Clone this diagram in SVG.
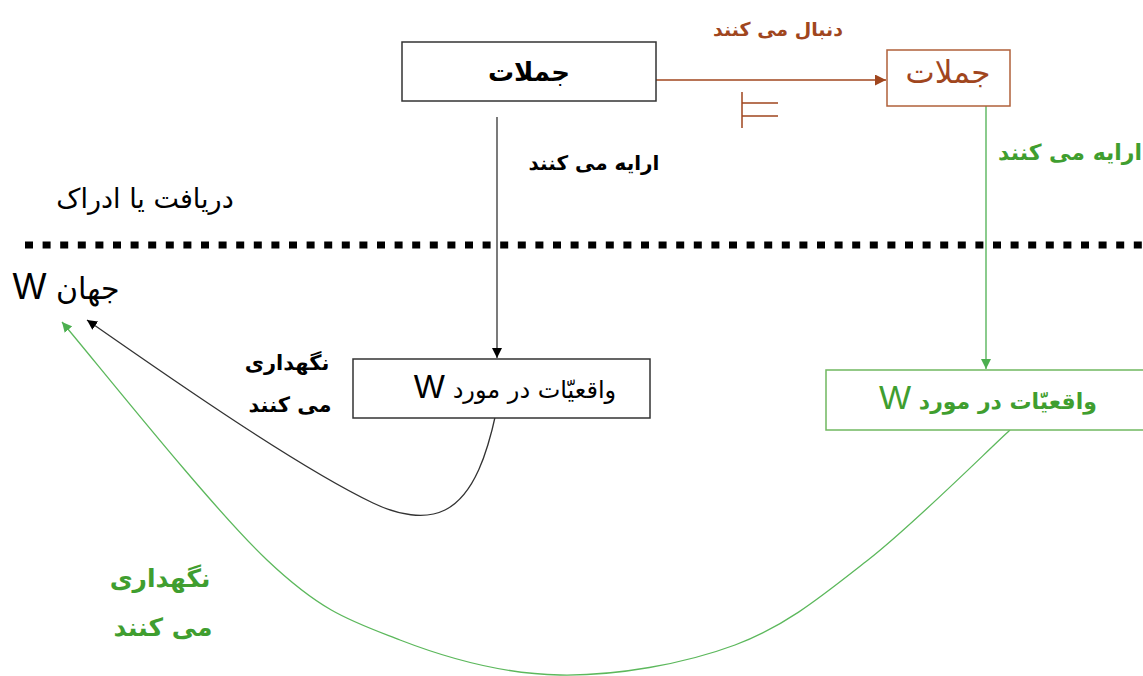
<svg xmlns="http://www.w3.org/2000/svg" width="1143" height="676" viewBox="0 0 1143 676">
<style>
text{font-family:"DejaVu Sans","Noto Sans",sans-serif;direction:rtl;text-anchor:middle}
.w{font-family:"Liberation Sans",Arial,sans-serif;font-weight:normal}
.blk{fill:#000}
.brn{fill:#a0461e}
.grn{fill:#3f9e2f}
.lbl{font-weight:bold}
</style>
<defs>
<marker id="ab" viewBox="0 0 10 10" refX="10" refY="5" markerWidth="10" markerHeight="10" markerUnits="userSpaceOnUse" orient="auto"><path d="M0,0L10,5L0,10z" fill="#000"/></marker>
<marker id="ar" viewBox="0 0 10 10" refX="10" refY="5" markerWidth="11" markerHeight="11" markerUnits="userSpaceOnUse" orient="auto"><path d="M0,0L10,5L0,10z" fill="#a0461e"/></marker>
<marker id="ag" viewBox="0 0 10 10" refX="10" refY="5" markerWidth="10" markerHeight="10" markerUnits="userSpaceOnUse" orient="auto"><path d="M0,0L10,5L0,10z" fill="#4caf50"/></marker>
</defs>
<rect width="1143" height="676" fill="#fff"/>
<line x1="25" y1="245" x2="1143" y2="245" stroke="#000" stroke-width="7" stroke-dasharray="8 9.6"/>
<g id="connectors" fill="none">
<path d="M656,80H886" stroke="#a0461e" stroke-width="1.5" marker-end="url(#ar)"/>
<path d="M742,92V128M742,103H778M742,116H778" stroke="#a0461e" stroke-width="1.5"/>
<path d="M497,117V358" stroke="#333" stroke-width="1.3" marker-end="url(#ab)"/>
<path d="M986,102V369" stroke="#4caf50" stroke-width="1.3" marker-end="url(#ag)"/>
<path d="M496,413C488,450 475,495 445,510C425,520 398,515 373,503C300,468 180,385 87,320" stroke="#333" stroke-width="1.3" marker-end="url(#ab)"/>
<path d="M1010,430C986,452 914,524 868,560C822,596 786,626 735,645C684,664 616,676 560,675C504,674 449,659 400,640C351,621 323,613 267,560C211,507 96,362 62,322" stroke="#5cb85c" stroke-width="1.3" marker-end="url(#ag)"/>
</g>
<g id="n1"><rect x="402" y="42" width="254" height="59" fill="#fff" stroke="#333" stroke-width="1.5"/><text x="529" y="81" class="blk" font-size="26" font-weight="bold">جملات</text></g>
<g id="n2"><rect x="887" y="50" width="123" height="56" fill="#fff" stroke="#b0603a" stroke-width="1.5"/><text x="948" y="83" class="brn" font-size="31">جملات</text></g>
<g id="n3"><rect x="353" y="359" width="297" height="59" fill="#fff" stroke="#333" stroke-width="1.5"/><text x="515" y="398" class="blk" font-size="24">واقعیّات در مورد <tspan class="w" font-size="33">W</tspan></text></g>
<g id="n4"><rect x="826" y="370" width="320" height="60" fill="#fff" stroke="#70b860" stroke-width="1.5"/><text x="988" y="409" class="grn" font-size="22" font-weight="bold">واقعیّات در مورد <tspan class="w" font-size="34">W</tspan></text></g>
<g id="labels">
<text x="778" y="36" class="brn lbl" font-size="19">دنبال می کنند</text>
<text x="594" y="170" class="blk lbl" font-size="20">ارایه می کنند</text>
<text x="1070" y="160" class="grn lbl" font-size="22">ارایه می کنند</text>
<text x="145" y="208" class="blk" font-size="27">دریافت یا ادراک</text>
<text x="66" y="299" class="blk" font-size="30">جهان <tspan class="w" font-size="36">W</tspan></text>
<text x="287" y="370" class="blk lbl" font-size="21">نگهداری</text>
<text x="290" y="412" class="blk lbl" font-size="21">می کنند</text>
<text x="160" y="587" class="grn lbl" font-size="25">نگهداری</text>
<text x="163" y="636" class="grn lbl" font-size="25">می کنند</text>
</g>
</svg>
